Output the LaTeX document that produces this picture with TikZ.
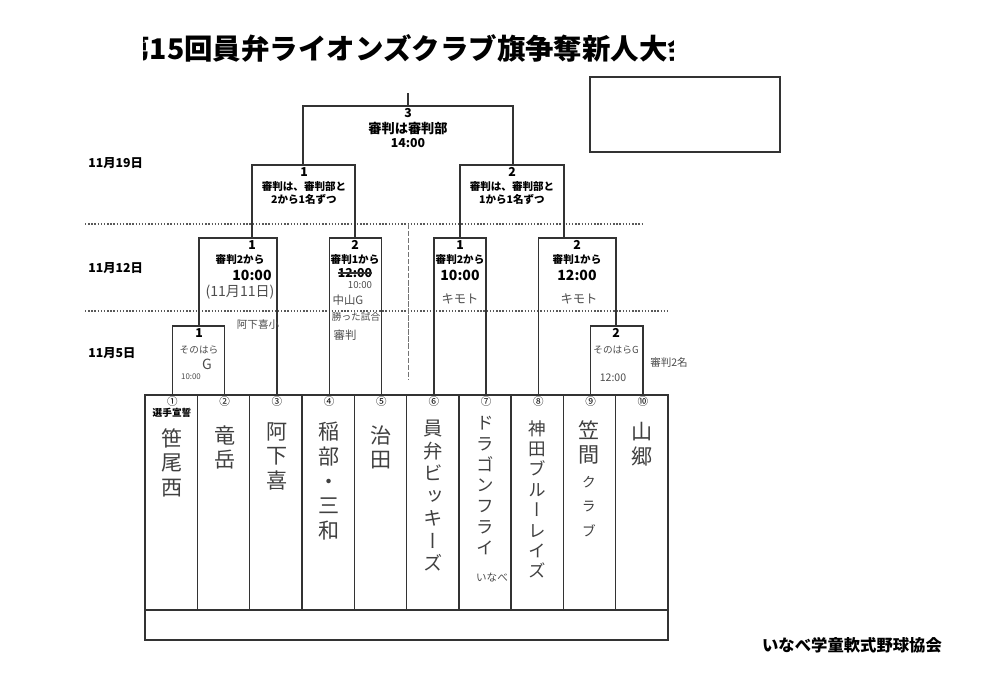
\documentclass[tikz,border=0pt]{standalone}
\usepackage{fontspec}
\setmainfont{Noto Sans CJK JP}
\newfontfamily\tate{Noto Sans CJK JP}[RawFeature=+vert]
\usepackage{tikz}
\usetikzlibrary{positioning}

\begin{document}
\begin{tikzpicture}[x=0.02cm, y=-0.02cm,
	line/.style={draw=black!80, line width=0.8pt},
	dots/.style={draw=black!65, line width=0.8pt, densely dotted},
	title/.style={inner sep=0pt, font=\bfseries\fontsize{16.2}{18}\selectfont},
	lbl/.style={inner sep=0pt, font=\bfseries\fontsize{6}{7}\selectfont},
	time/.style={inner sep=0pt, font=\bfseries\fontsize{8}{9}\selectfont},
	date/.style={inner sep=0pt, anchor=west, font=\bfseries\fontsize{7}{8}\selectfont},
	hand/.style={inner sep=0pt, text=black!70, font=\fontsize{6}{7}\selectfont},
	num/.style={inner sep=0pt, font=\fontsize{6}{7}\selectfont},
	team/.style={inner sep=0pt, anchor=north, align=center, text=black!75, font=\tate\fontsize{12}{14}\selectfont}]
	\useasboundingbox (0,0) rectangle (1000,680);
	
	\begin{scope}
	\clip (143,20) rectangle (673,80);
	\node[title, anchor=west] (head) at (121,48) {第15回員弁ライオンズクラブ旗争奪新人大会};
	\end{scope}
	\node[line, minimum width=3.8cm, minimum height=1.5cm] (memo) at (685,114.5) {};
	\node[inner sep=0pt, font=\bfseries\fontsize{9.3}{10}\selectfont] (assoc) at (852,645) {いなべ学童軟式野球協会};
	
	\node[date] (d19) at (88,163) {11月19日};
	\node[date] (d12) at (88,268) {11月12日};
	\node[date] (d5) at (88,353) {11月5日};
	\draw[dots] (85,224) -- (642,224);
	\draw[dots] (85,311) -- (668,311);
	\draw[draw=black!55, line width=0.5pt, dash pattern=on 3pt off 1pt] (408,224) -- (408,380);
	
	\draw[line] (145,395) rectangle (668,640);
	\draw[line] (145,610) -- (668,610);
	\foreach \i in {1,...,9}
		\draw[line] (145+52.3*\i,395) -- ++(0,215);
	\foreach \i/\n in {1/①,2/②,3/③,4/④,5/⑤,6/⑥,7/⑦,8/⑧,9/⑨,10/⑩} {
		\coordinate (t\i) at (145+52.3*\i-25,395);
		\node[num, anchor=north] (n\i) at (145+52.3*\i-25,396) {\n};
	}
	
	\coordinate (r1a) at (199,326);
	\coordinate (r1b) at (616,326);
	\coordinate (r2a) at (252,238);
	\coordinate (r2b) at (355,238);
	\coordinate (r2c) at (460,238);
	\coordinate (r2d) at (564,238);
	\coordinate (r3a) at (303,165);
	\coordinate (r3b) at (513,165);
	\coordinate (top) at (408,106);
	\coordinate (win) at (408,93);
	
	\draw[line] (t1) |- (r1a) -| (t2);
	\draw[line] (t9) |- (r1b) -| (t10);
	\draw[line] (r1a) |- (r2a) -| (t3);
	\draw[line] (t4) |- (r2b) -| (t5);
	\draw[line] (t6) |- (r2c) -| (t7);
	\draw[line] (t8) |- (r2d) -| (r1b);
	\draw[line] (r2a) |- (r3a) -| (r2b);
	\draw[line] (r2c) |- (r3b) -| (r2d);
	\draw[line] (r3a) |- (top) -| (r3b);
	\draw[line] (top) -- (win);
	
	\node[lbl, font=\bfseries\fontsize{7}{8}\selectfont] (f1) at (408,113) {3};
	\node[lbl, font=\bfseries\fontsize{7.5}{8}\selectfont] (f2) at (408,128) {審判は審判部};
	\node[lbl, font=\bfseries\fontsize{7}{8}\selectfont] (f3) at (408,143) {14:00};
	
	\node[lbl, font=\bfseries\fontsize{7}{8}\selectfont] (s1a) at (304,172) {1};
	\node[lbl] (s1b) at (304,186) {審判は、審判部と};
	\node[lbl] (s1c) at (304,199) {2から1名ずつ};
	\node[lbl, font=\bfseries\fontsize{7}{8}\selectfont] (s2a) at (512,172) {2};
	\node[lbl] (s2b) at (512,186) {審判は、審判部と};
	\node[lbl] (s2c) at (512,199) {1から1名ずつ};
	
	\node[lbl, font=\bfseries\fontsize{7}{8}\selectfont] (q1a) at (252,245) {1};
	\node[lbl] (q1b) at (240,260) {審判2から};
	\node[time] (q1c) at (252,275) {10:00};
	\node[hand, font=\fontsize{8}{9}\selectfont] (q1d) at (240,292) {(11月11日)};
	\node[hand] (q1e) at (258,324) {阿下喜小};
	
	\node[lbl, font=\bfseries\fontsize{7}{8}\selectfont] (q2a) at (355,245) {2};
	\node[lbl] (q2b) at (355,260) {審判1から};
	\node[lbl, font=\bfseries\fontsize{7}{8}\selectfont] (q2c) at (355,273) {12:00};
	\draw[black!80, line width=0.6pt] (q2c.west) -- (q2c.east);
	\node[hand, font=\fontsize{5.5}{6}\selectfont] (q2d) at (360,285) {10:00};
	\node[hand, font=\fontsize{6.5}{7}\selectfont] (q2e) at (348,300) {中山G};
	\node[hand, font=\fontsize{5.5}{6}\selectfont] (q2f) at (356,317) {勝った試合};
	\node[hand, font=\fontsize{6.5}{7}\selectfont] (q2g) at (345,335) {審判};
	
	\node[lbl, font=\bfseries\fontsize{7}{8}\selectfont] (q3a) at (460,245) {1};
	\node[lbl] (q3b) at (460,260) {審判2から};
	\node[time] (q3c) at (460,275) {10:00};
	\node[hand, font=\fontsize{7}{8}\selectfont] (q3d) at (460,299) {キモト};
	
	\node[lbl, font=\bfseries\fontsize{7}{8}\selectfont] (q4a) at (577,245) {2};
	\node[lbl] (q4b) at (577,260) {審判1から};
	\node[time] (q4c) at (577,275) {12:00};
	\node[hand, font=\fontsize{7}{8}\selectfont] (q4d) at (579,299) {キモト};
	
	\node[lbl, font=\bfseries\fontsize{7}{8}\selectfont] (p1a) at (199,333) {1};
	\node[hand, font=\fontsize{5.5}{6}\selectfont] (p1b) at (199,350) {そのはら};
	\node[hand, font=\fontsize{8}{9}\selectfont] (p1c) at (207,364) {G};
	\node[hand, font=\fontsize{4.5}{5}\selectfont] (p1d) at (191,377) {10:00};
	
	\node[lbl, font=\bfseries\fontsize{7}{8}\selectfont] (p2a) at (616,333) {2};
	\node[hand, font=\fontsize{5.5}{6}\selectfont] (p2b) at (616,350) {そのはらG};
	\node[hand] (p2c) at (613,378) {12:00};
	\node[hand] (p2d) at (669,362) {審判2名};
	
	\node[lbl, font=\bfseries\fontsize{5.5}{6}\selectfont] (pledge) at (172,413) {選手宣誓};
	\node[team] (a1) at (172,428) {笹\\尾\\西};
	\node[team] (a2) at (225,425) {竜\\岳};
	\node[team] (a3) at (277,422) {阿\\下\\喜};
	\node[team] (a4) at (329,422) {稲\\部\\・\\三\\和};
	\node[team] (a5) at (381,425) {治\\田};
	\node[team, font=\tate\fontsize{11}{12.8}\selectfont] (a6) at (433,420) {員\\弁\\ビ\\ッ\\キ\\ー\\ズ};
	\node[team, font=\tate\fontsize{10}{11.8}\selectfont] (a7) at (485,416) {ド\\ラ\\ゴ\\ン\\フ\\ラ\\イ};
	\node[hand, font=\fontsize{6}{7}\selectfont] (a7b) at (492,578) {いなべ};
	\node[team, font=\tate\fontsize{10}{11.6}\selectfont] (a8) at (537,420) {神\\田\\ブ\\ル\\ー\\レ\\イ\\ズ};
	\node[team, font=\tate\fontsize{12}{14}\selectfont] (a9) at (589,420) {笠\\間\\{\fontsize{8}{10}\selectfont ク}\\{\fontsize{8}{10}\selectfont ラ}\\{\fontsize{8}{10}\selectfont ブ}};
	\node[team] (a10) at (642,422) {山\\郷};
\end{tikzpicture}
\end{document}
